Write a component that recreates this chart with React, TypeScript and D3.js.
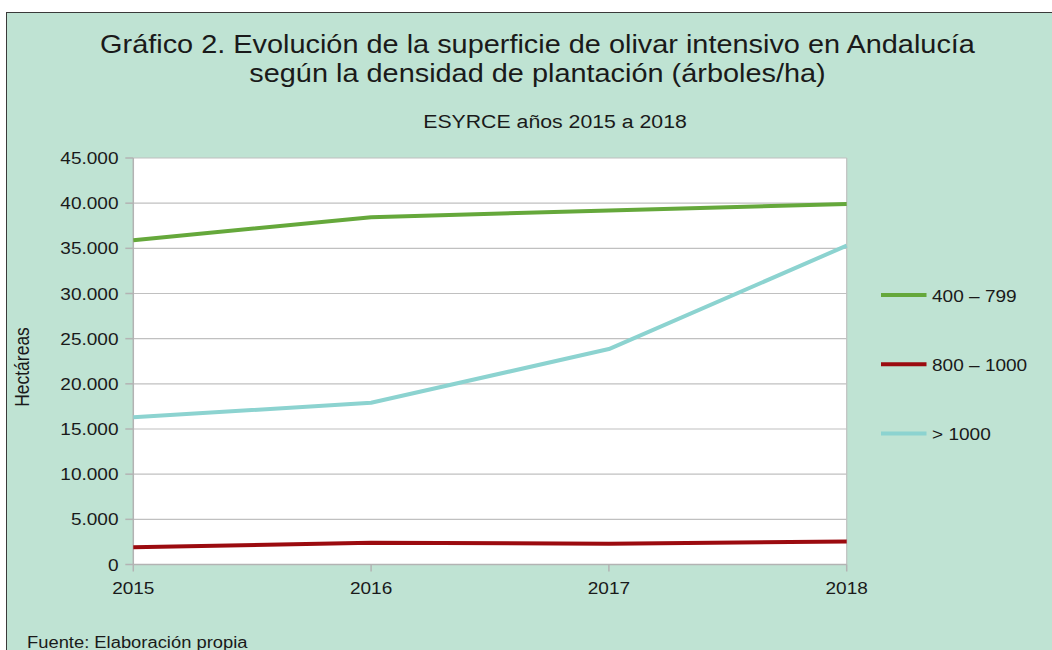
import React from 'react'
import * as d3 from 'd3'

const years = ['2015', '2016', '2017', '2018']
const series400 = [35900, 38450, 39200, 39900]
const series800 = [1900, 2400, 2300, 2550]
const series1000 = [16300, 17900, 23850, 35300]
const seriesNames = ['400 – 799', '800 – 1000', '> 1000']
const yTicks = [0, 5000, 10000, 15000, 20000, 25000, 30000, 35000, 40000, 45000]

const colors = ['#65a83b', '#9b0b0f', '#8cd3d0']
const FONT = '"Liberation Sans", Arial, sans-serif'
// the reference text looks slightly stretched horizontally
const SX = 1.12

const Label = ({ x, y, size, anchor = 'start', rotate = 0, children }: any) => (
  <g transform={`translate(${x},${y}) scale(${SX},1) rotate(${rotate})`}>
    <text fontFamily={FONT} fontSize={size} fill="#1a1a1a" textAnchor={anchor}>
      {children}
    </text>
  </g>
)

const App = () => {
  const width = 1052
  const height = 650
  const left = 133.3
  const right = 846.7
  const top = 158
  const bottom = 564.5

  const x = d3.scalePoint().domain(years).range([left, right])
  const y = d3.scaleLinear().domain([0, 45000]).range([bottom, top])
  const fmt = d3.formatLocale({ decimal: ',', thousands: '.', grouping: [3], currency: ['', '€'] }).format(',')

  const line = d3.line<number>()
    .x((d, i) => x(years[i]) as number)
    .y(d => y(d))

  const allSeries = [series400, series800, series1000]

  return (
    <svg width={width} height={height} style={{ position: 'absolute', left: 0, top: 0 }}>
      <rect x={0} y={0} width={width} height={height} fill="#fff" />
      <rect x={6.5} y={12.5} width={1200} height={800} fill="#bfe3d3" stroke="#3a3a3a" strokeWidth={1} />

      <Label x={537.5} y={53} size={25.8} anchor="middle">
        Gráfico 2. Evolución de la superficie de olivar intensivo en Andalucía
      </Label>
      <Label x={537.5} y={82} size={25.8} anchor="middle">
        según la densidad de plantación (árboles/ha)
      </Label>
      <Label x={555} y={127.5} size={19} anchor="middle">ESYRCE años 2015 a 2018</Label>

      {/* plot area */}
      <rect x={left} y={top} width={right - left} height={bottom - top} fill="#fff" />
      {yTicks.map(t => (
        <line key={t} x1={left} x2={right} y1={y(t)} y2={y(t)} stroke="#c0c0c0" strokeWidth={1.2} />
      ))}
      <line x1={right} x2={right} y1={top} y2={bottom} stroke="#c0c0c0" strokeWidth={1.2} />
      <line x1={left} x2={left} y1={top} y2={bottom} stroke="#b3b3b3" strokeWidth={1.5} />
      <line x1={left} x2={right} y1={bottom} y2={bottom} stroke="#b3b3b3" strokeWidth={1.5} />

      {yTicks.map(t => (
        <g key={t}>
          <line x1={left - 8} x2={left} y1={y(t)} y2={y(t)} stroke="#b3b3b3" strokeWidth={1.5} />
          <Label x={118.5} y={y(t) + 6} size={17} anchor="end">{fmt(t)}</Label>
        </g>
      ))}
      {years.map(yr => (
        <g key={yr}>
          <line x1={x(yr)} x2={x(yr)} y1={bottom} y2={bottom + 7} stroke="#b3b3b3" strokeWidth={1.5} />
          <Label x={x(yr)} y={594} size={17} anchor="middle">{yr}</Label>
        </g>
      ))}

      <Label x={29} y={367} size={17.5} anchor="middle" rotate={-90}>Hectáreas</Label>

      {allSeries.map((s, i) => (
        <path key={i} d={line(s) || ''} fill="none" stroke={colors[i]} strokeWidth={4} strokeLinejoin="round" />
      ))}

      {/* legend */}
      {seriesNames.map((name, i) => {
        const ly = 295 + i * 69.2
        return (
          <g key={name}>
            <line x1={881} x2={926.5} y1={ly} y2={ly} stroke={colors[i]} strokeWidth={4} />
            <Label x={932} y={ly + 6.5} size={17}>{name}</Label>
          </g>
        )
      })}

      <Label x={27} y={648} size={16.4}>Fuente: Elaboración propia</Label>
    </svg>
  )
}

export default App
